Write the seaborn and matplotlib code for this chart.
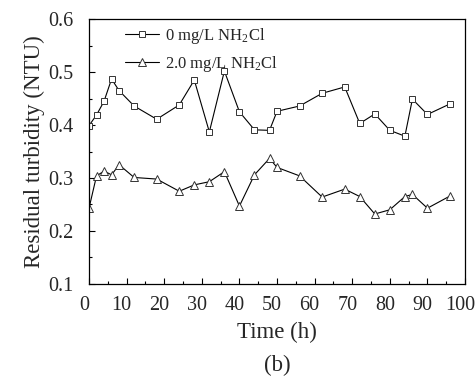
import matplotlib
matplotlib.use("Agg")
import matplotlib.pyplot as plt
import matplotlib.transforms as mtransforms
import seaborn as sns
import pandas as pd
from matplotlib.ticker import MultipleLocator

# Data
time_h = [0, 2, 4, 6, 8, 12, 18, 24, 28, 32, 36, 40, 44, 48, 50, 56, 62, 68, 72, 76, 80, 84, 86, 90, 96]
turb_0 = [0.399, 0.419, 0.445, 0.487, 0.465, 0.436, 0.411, 0.438, 0.485, 0.387, 0.502, 0.425,
          0.391, 0.390, 0.426, 0.436, 0.460, 0.472, 0.403, 0.421, 0.390, 0.379, 0.449, 0.420, 0.440]
turb_2 = [0.243, 0.304, 0.313, 0.306, 0.325, 0.301, 0.298, 0.275, 0.287, 0.293, 0.312, 0.247,
          0.306, 0.337, 0.320, 0.304, 0.264, 0.279, 0.265, 0.232, 0.240, 0.265, 0.269, 0.243, 0.266]
labels = [r"0 mg/L NH$_2$Cl", r"2.0 mg/L NH$_2$Cl"]
x_ticks = [0, 10, 20, 30, 40, 50, 60, 70, 80, 90, 100]
y_ticks = [0.1, 0.2, 0.3, 0.4, 0.5, 0.6]

sns.set_style("ticks")
plt.rcParams["font.family"] = ["Liberation Serif", "DejaVu Serif"]
plt.rcParams["mathtext.fontset"] = "custom"
plt.rcParams["mathtext.rm"] = "Liberation Serif"
plt.rcParams["mathtext.it"] = "Liberation Serif:italic"

fig = plt.figure(figsize=(4.76, 3.76), dpi=100)
ax = fig.add_axes([0.187, 0.245, 0.790, 0.704])

df0 = pd.DataFrame({"t": time_h, "v": turb_0})
df2 = pd.DataFrame({"t": time_h, "v": turb_2})

sns.lineplot(data=df0, x="t", y="v", ax=ax, color="black", lw=0.8, marker="s",
             markersize=4.2, markerfacecolor="white", markeredgecolor="#333333",
             markeredgewidth=0.7, label=labels[0])
sns.lineplot(data=df2, x="t", y="v", ax=ax, color="black", lw=0.8, marker="^",
             markersize=5.5, markerfacecolor="white", markeredgecolor="#333333",
             markeredgewidth=0.7, label=labels[1])

ax.set_xlim(0, 100)
ax.set_ylim(0.1, 0.6)
ax.set_xticks(x_ticks)
ax.set_yticks(y_ticks)
ax.set_xticklabels([str(v) for v in x_ticks])
ax.set_yticklabels([f"{v:.1f}" for v in y_ticks])
ax.xaxis.set_minor_locator(MultipleLocator(5))
ax.yaxis.set_minor_locator(MultipleLocator(0.05))
ax.tick_params(which="major", direction="in", length=4.5, width=0.8, labelsize=14.5, color="black")
ax.tick_params(which="minor", direction="in", length=2.5, width=0.8, color="black")
ax.tick_params(axis="y", which="major", pad=11.5)
ax.tick_params(axis="x", which="major", pad=9)
shift = mtransforms.ScaledTranslation(-5 / 100, 0, fig.dpi_scale_trans)
for lab in ax.get_xticklabels():
    lab.set_transform(lab.get_transform() + shift)
for s in ax.spines.values():
    s.set_color("black")
    s.set_linewidth(0.9)

ax.set_xlabel("Time (h)", fontsize=16.5, labelpad=5)
ax.set_ylabel("Residual turbidity (NTU)", fontsize=16.5, labelpad=2)

leg = ax.legend(loc="upper left", bbox_to_anchor=(0.07, 1.012), frameon=False, fontsize=12,
                handlelength=2.0, handletextpad=0.4, labelspacing=0.5, borderaxespad=0.2)

fig.text(0.582, 1 - 365 / 376, "(b)", ha="center", va="center", fontsize=16.5)

fig.savefig("out.png", dpi=100)
